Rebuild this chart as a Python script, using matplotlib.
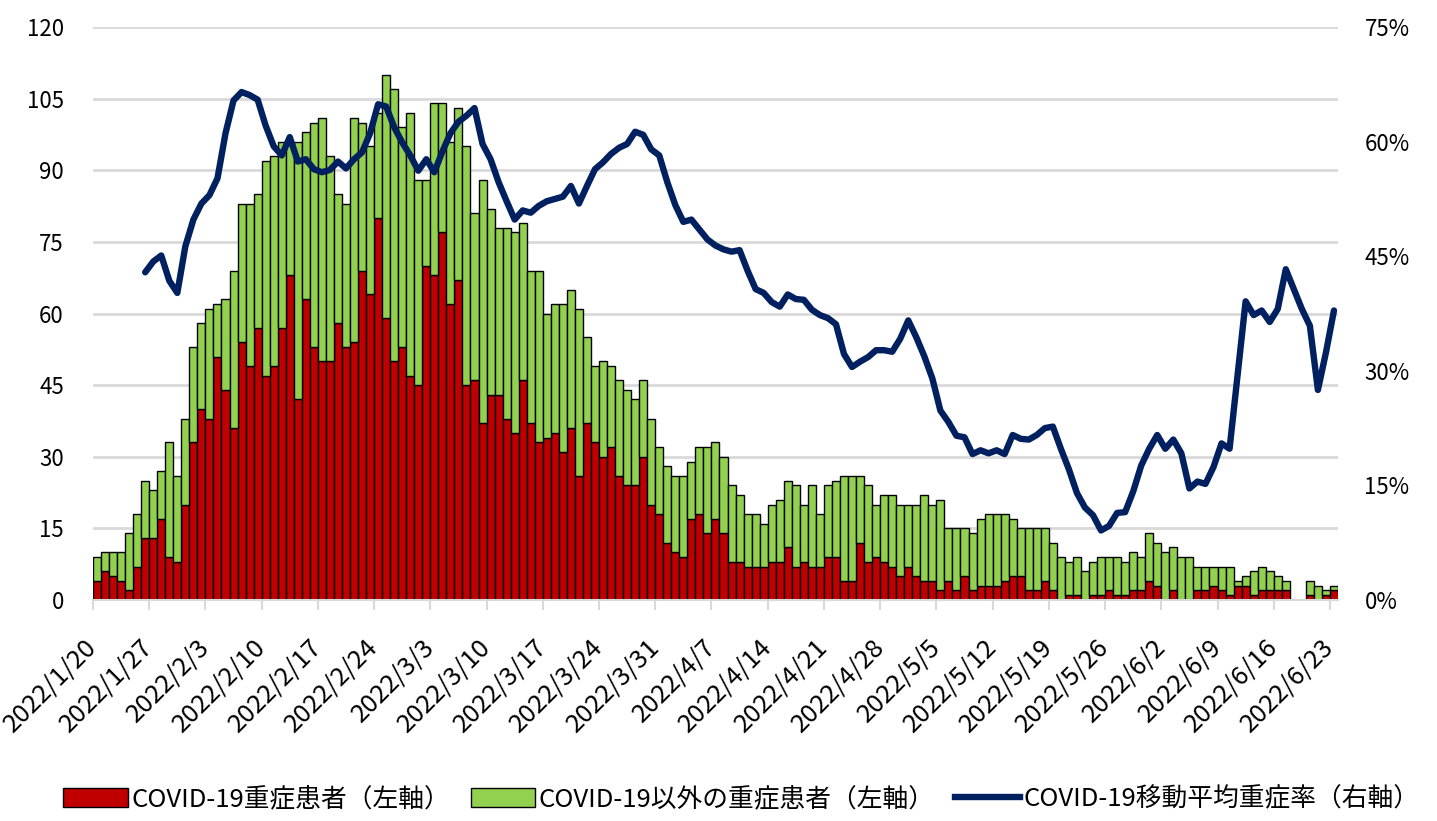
import numpy as np
import pandas as pd
import matplotlib
matplotlib.use("Agg")
import matplotlib.pyplot as plt
from matplotlib.patches import Patch
from matplotlib.lines import Line2D

plt.rcParams["font.family"] = ["Noto Sans CJK JP", "DejaVu Sans"]

# ---------------------------------------------------------
# data
# ---------------------------------------------------------
dates = pd.date_range("2022-01-20", "2022-06-23", freq="D")

# total severe patients (COVID-19 + others), left axis
total_severe = [
    9, 10, 10, 10, 14, 18, 25, 23, 27, 33, 26, 38, 53, 58, 61, 62, 63, 69, 83, 83,
    85, 92, 93, 96, 96, 96, 98, 100, 101, 93, 85, 83, 101, 100, 95, 102, 110, 107, 99, 102,
    88, 88, 104, 104, 96, 103, 95, 81, 88, 82, 78, 78, 77, 79, 69, 69, 60, 62, 62, 65,
    61, 55, 49, 50, 49, 46, 44, 42, 46, 38, 32, 28, 26, 26, 29, 32, 32, 33, 30, 24,
    22, 18, 18, 16, 20, 21, 25, 24, 20, 24, 18, 24, 25, 26, 26, 26, 24, 20, 22, 22,
    20, 20, 20, 22, 20, 21, 15, 15, 15, 14, 17, 18, 18, 18, 17, 15, 15, 15, 15, 12,
    9, 8, 9, 6, 8, 9, 9, 9, 8, 10, 9, 14, 12, 10, 11, 9, 9, 7, 7, 7,
    7, 7, 4, 5, 6, 7, 6, 5, 4, 0, 0, 4, 3, 2, 3,
]

# COVID-19 severe patients, left axis
covid_severe = [
    4, 6, 5, 4, 2, 7, 13, 13, 17, 9, 8, 20, 33, 40, 38, 51, 44, 36, 54, 49,
    57, 47, 49, 57, 68, 42, 63, 53, 50, 50, 58, 53, 54, 69, 64, 80, 59, 50, 53, 47,
    45, 70, 68, 77, 62, 67, 45, 46, 37, 43, 43, 38, 35, 46, 37, 33, 34, 35, 31, 36,
    26, 37, 33, 30, 32, 26, 24, 24, 30, 20, 18, 12, 10, 9, 17, 18, 14, 17, 14, 8,
    8, 7, 7, 7, 8, 8, 11, 7, 8, 7, 7, 9, 9, 4, 4, 12, 8, 9, 8, 7,
    5, 7, 5, 4, 4, 2, 4, 2, 5, 2, 3, 3, 3, 4, 5, 5, 2, 2, 4, 2,
    0, 1, 1, 0, 1, 1, 2, 1, 1, 2, 2, 4, 3, 0, 2, 0, 0, 2, 2, 3,
    2, 1, 3, 3, 1, 2, 2, 2, 2, 0, 0, 1, 0, 1, 2,
]

# moving-average severity rate (%), right axis
severity_rate = [
    np.nan, np.nan, np.nan, np.nan, np.nan, np.nan, 42.9, 44.3, 45.1, 41.8,
    40.2, 46.3, 49.8, 51.9, 53.0, 55.2, 61.1, 65.4, 66.5, 66.1,
    65.5, 62.1, 59.4, 58.2, 60.6, 57.4, 57.7, 56.4, 56.0, 56.3,
    57.4, 56.5, 57.7, 58.6, 61.1, 64.9, 64.6, 61.9, 59.9, 58.2,
    56.2, 57.7, 56.0, 58.7, 61.1, 62.6, 63.4, 64.4, 59.7, 57.7,
    54.7, 52.2, 49.8, 51.0, 50.7, 51.6, 52.2, 52.5, 52.8, 54.2,
    51.9, 54.2, 56.4, 57.3, 58.4, 59.2, 59.7, 61.3, 60.9, 59.0,
    58.2, 54.7, 51.7, 49.5, 49.8, 48.5, 47.2, 46.4, 45.9, 45.6,
    45.8, 43.1, 40.7, 40.2, 39.0, 38.4, 40.0, 39.4, 39.3, 38.0,
    37.3, 36.9, 36.1, 32.2, 30.5, 31.2, 31.8, 32.7, 32.7, 32.5,
    34.2, 36.6, 34.4, 31.9, 29.0, 24.8, 23.3, 21.5, 21.3, 19.1,
    19.6, 19.2, 19.6, 19.1, 21.6, 21.1, 21.0, 21.6, 22.5, 22.7,
    19.8, 17.1, 14.0, 12.1, 11.1, 9.1, 9.7, 11.4, 11.5, 14.2,
    17.6, 19.8, 21.6, 19.8, 21.0, 19.2, 14.6, 15.5, 15.2, 17.4,
    20.5, 19.8, 29.4, 39.1, 37.3, 37.9, 36.4, 38.1, 43.3, 40.7,
    38.1, 35.9, 27.5, 32.4, 37.9,
]

other_severe = np.array(total_severe) - np.array(covid_severe)
x = np.arange(len(dates))

RED = "#c00000"
GREEN = "#92d050"
NAVY = "#002060"

# ---------------------------------------------------------
# plot
# ---------------------------------------------------------
fig = plt.figure(figsize=(14.37, 8.21), dpi=100)
ax = fig.add_axes([0.0647, 0.2692, 0.8664, 0.6978])

ax.bar(x, covid_severe, width=1.0, align="edge", color=RED,
       edgecolor="black", linewidth=1.0, zorder=2)
ax.bar(x, other_severe, width=1.0, align="edge", bottom=covid_severe,
       color=GREEN, edgecolor="black", linewidth=1.0, zorder=2)

ax.set_xlim(0, len(dates))
ax.set_ylim(0, 120)
ax.set_yticks(np.arange(0, 121, 15))
ax.grid(axis="y", color="#d9d9d9", linewidth=2, zorder=0)
ax.set_axisbelow(True)

for side in ["left", "right", "top"]:
    ax.spines[side].set_visible(False)
ax.spines["bottom"].set_color("#d9d9d9")
ax.spines["bottom"].set_linewidth(1.5)

tick_pos = x[::7]
ax.set_xticks(tick_pos)
ax.set_xticklabels([f"{d.year}/{d.month}/{d.day}" for d in dates[::7]],
                   rotation=45, ha="right", va="center", rotation_mode="anchor",
                   fontsize=18.5)
ax.tick_params(axis="x", length=7, color="#d9d9d9", width=1.5, pad=24)
ax.tick_params(axis="y", length=0, pad=21, labelsize=16)

ax2 = ax.twinx()
ax2.plot(x + 0.5, severity_rate, color=NAVY, linewidth=4.6,
         solid_joinstyle="round", solid_capstyle="round", zorder=3)
ax2.set_ylim(0, 75)
ax2.set_yticks(np.arange(0, 76, 15))
ax2.set_yticklabels([f"{v}%" for v in range(0, 76, 15)])
ax2.tick_params(axis="y", length=0, pad=19, labelsize=16)
for side in ["left", "right", "top", "bottom"]:
    ax2.spines[side].set_visible(False)

handles = [
    Patch(facecolor=RED, edgecolor="black", linewidth=1.0),
    Patch(facecolor=GREEN, edgecolor="black", linewidth=1.0),
    Line2D([0], [0], color=NAVY, linewidth=4.6),
]
labels = [
    "COVID-19重症患者（左軸）",
    "COVID-19以外の重症患者（左軸）",
    "COVID-19移動平均重症率（右軸）",
]
fig.legend(handles, labels, loc="center", bbox_to_anchor=(0.516, 0.026),
           ncol=3, frameon=False, fontsize=18.5, handlelength=2.5,
           handleheight=0.75, handletextpad=0.15, columnspacing=0.8)

plt.savefig("out.png", dpi=100)
